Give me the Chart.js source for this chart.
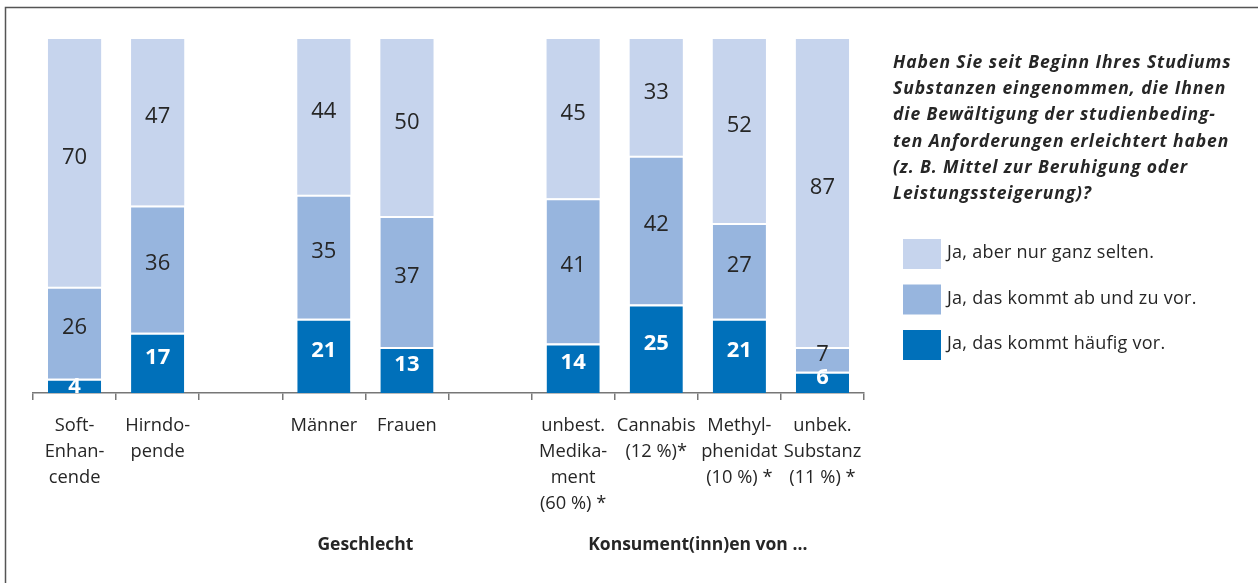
<!DOCTYPE html>
<html>
<head>
<meta charset="utf-8">
<script src="https://cdn.jsdelivr.net/npm/chart.js@4"></script>
<style>
html,body{margin:0;padding:0;background:#fff;}
#wrap{position:relative;width:1258px;height:583px;}
</style>
</head>
<body>
<div id="wrap"><canvas id="c" width="1258" height="583"></canvas></div>
<script>
const categories = [
  ["Soft-","Enhan-","cende"],
  ["Hirndo-","pende"],
  "",
  "Männer",
  "Frauen",
  "",
  ["unbest.","Medika-","ment","(60 %) *"],
  ["Cannabis","(12 %)*"],
  ["Methyl-","phenidat","(10 %) *"],
  ["unbek.","Substanz","(11 %) *"]
];
const haeufig   = [4, 17, null, 21, 13, null, 14, 25, 21, 6];
const abUndZu   = [26, 36, null, 35, 37, null, 41, 42, 27, 7];
const selten    = [70, 47, null, 44, 50, null, 45, 33, 52, 87];
const seriesNames = ["Ja, das kommt häufig vor.", "Ja, das kommt ab und zu vor.", "Ja, aber nur ganz selten."];
const seriesColors = ["#0070BA", "#97B5DE", "#C6D4ED"];
const groupLabels = [
  {text: "Geschlecht", from: 3, to: 4},
  {text: "Konsument(inn)en von ...", from: 6, to: 9}
];
const titleLines = [
  "Haben Sie seit Beginn Ihres Studiums",
  "Substanzen eingenommen, die Ihnen",
  "die Bewältigung der studienbeding-",
  "ten Anforderungen erleichtert haben",
  "(z. B. Mittel zur Beruhigung oder",
  "Leistungssteigerung)?"
];

const FONT = "'Open Sans', Lato, sans-serif";
const TXT = "#262626";

const extras = {
  id: "extras",
  beforeDraw(chart) {
    const ctx = chart.ctx;
    ctx.save();
    ctx.strokeStyle = "#555";
    ctx.lineWidth = 1.5;
    ctx.beginPath();
    ctx.moveTo(5.5, 583);
    ctx.lineTo(5.5, 7.5);
    ctx.lineTo(1258, 7.5);
    ctx.stroke();
    ctx.restore();
  },
  afterDatasetsDraw(chart) {
    const ctx = chart.ctx;
    ctx.save();
    ctx.textAlign = "center";
    ctx.textBaseline = "middle";
    chart.data.datasets.forEach((ds, di) => {
      const meta = chart.getDatasetMeta(di);
      meta.data.forEach((el, i) => {
        const v = ds.data[i];
        if (v === null || v === undefined) return;
        const p = el.getProps(["x", "y", "base"], true);
        const h = Math.abs(p.base - p.y);
        const cy = (p.y + p.base) / 2 - (h > 18 ? 5 : -1);
        if (di === 0) {
          ctx.fillStyle = "#fff";
          ctx.font = "bold 22px " + FONT;
        } else {
          ctx.fillStyle = TXT;
          ctx.font = "22px " + FONT;
        }
        ctx.fillText(String(v), p.x, cy);
      });
    });
    // group labels
    const xs = chart.scales.x;
    ctx.fillStyle = TXT;
    ctx.font = "bold 17.5px " + FONT;
    groupLabels.forEach(g => {
      const cx = (xs.getPixelForValue(g.from) + xs.getPixelForValue(g.to)) / 2;
      ctx.fillText(g.text, cx, 545);
    });
    // title
    ctx.textAlign = "left";
    ctx.font = "italic bold 17.5px " + FONT;
    ctx.letterSpacing = "0.9px";
    titleLines.forEach((t, k) => {
      ctx.fillText(t, 893, 63 + k * 26.2);
    });
    // legend (reverse order: light first)
    ctx.font = "18px " + FONT;
    ctx.letterSpacing = "0.25px";
    const order = [2, 1, 0];
    order.forEach((di, k) => {
      const ds = chart.data.datasets[di];
      const top = 239 + k * 45.5;
      ctx.fillStyle = ds.backgroundColor;
      ctx.fillRect(903, top, 38, 30);
      ctx.fillStyle = TXT;
      ctx.fillText(ds.label, 947, top + 14);
    });
    ctx.letterSpacing = "0px";
    ctx.restore();
  }
};

new Chart(document.getElementById("c"), {
  type: "bar",
  data: {
    labels: categories,
    datasets: [
      {label: seriesNames[0], data: haeufig, backgroundColor: seriesColors[0], borderColor: "#fff", borderWidth: {top: 2, bottom: 0, left: 0, right: 0}, borderSkipped: false},
      {label: seriesNames[1], data: abUndZu, backgroundColor: seriesColors[1], borderColor: "#fff", borderWidth: {top: 2, bottom: 0, left: 0, right: 0}, borderSkipped: false},
      {label: seriesNames[2], data: selten, backgroundColor: seriesColors[2], borderWidth: 0}
    ]
  },
  options: {
    responsive: false,
    animation: false,
    devicePixelRatio: 1,
    layout: {padding: {left: 33, right: 394, top: 39, bottom: 0}},
    plugins: {legend: {display: false}, tooltip: {enabled: false}},
    datasets: {bar: {barPercentage: 0.8, categoryPercentage: 0.8}},
    scales: {
      x: {
        stacked: true,
        grid: {display: true, drawOnChartArea: false, drawTicks: true, tickLength: 7, color: "#777", lineWidth: 1.5, offset: true},
        border: {display: true, color: "#777", width: 1.5},
        ticks: {color: TXT, font: {family: FONT, size: 18.3, lineHeight: "26px"}, padding: 13, maxRotation: 0, autoSkip: false},
        afterFit(s) { s.height = 190; }
      },
      y: {
        stacked: true,
        display: false,
        min: 0,
        max: 100
      }
    }
  },
  plugins: [extras]
});
</script>
</body>
</html>
